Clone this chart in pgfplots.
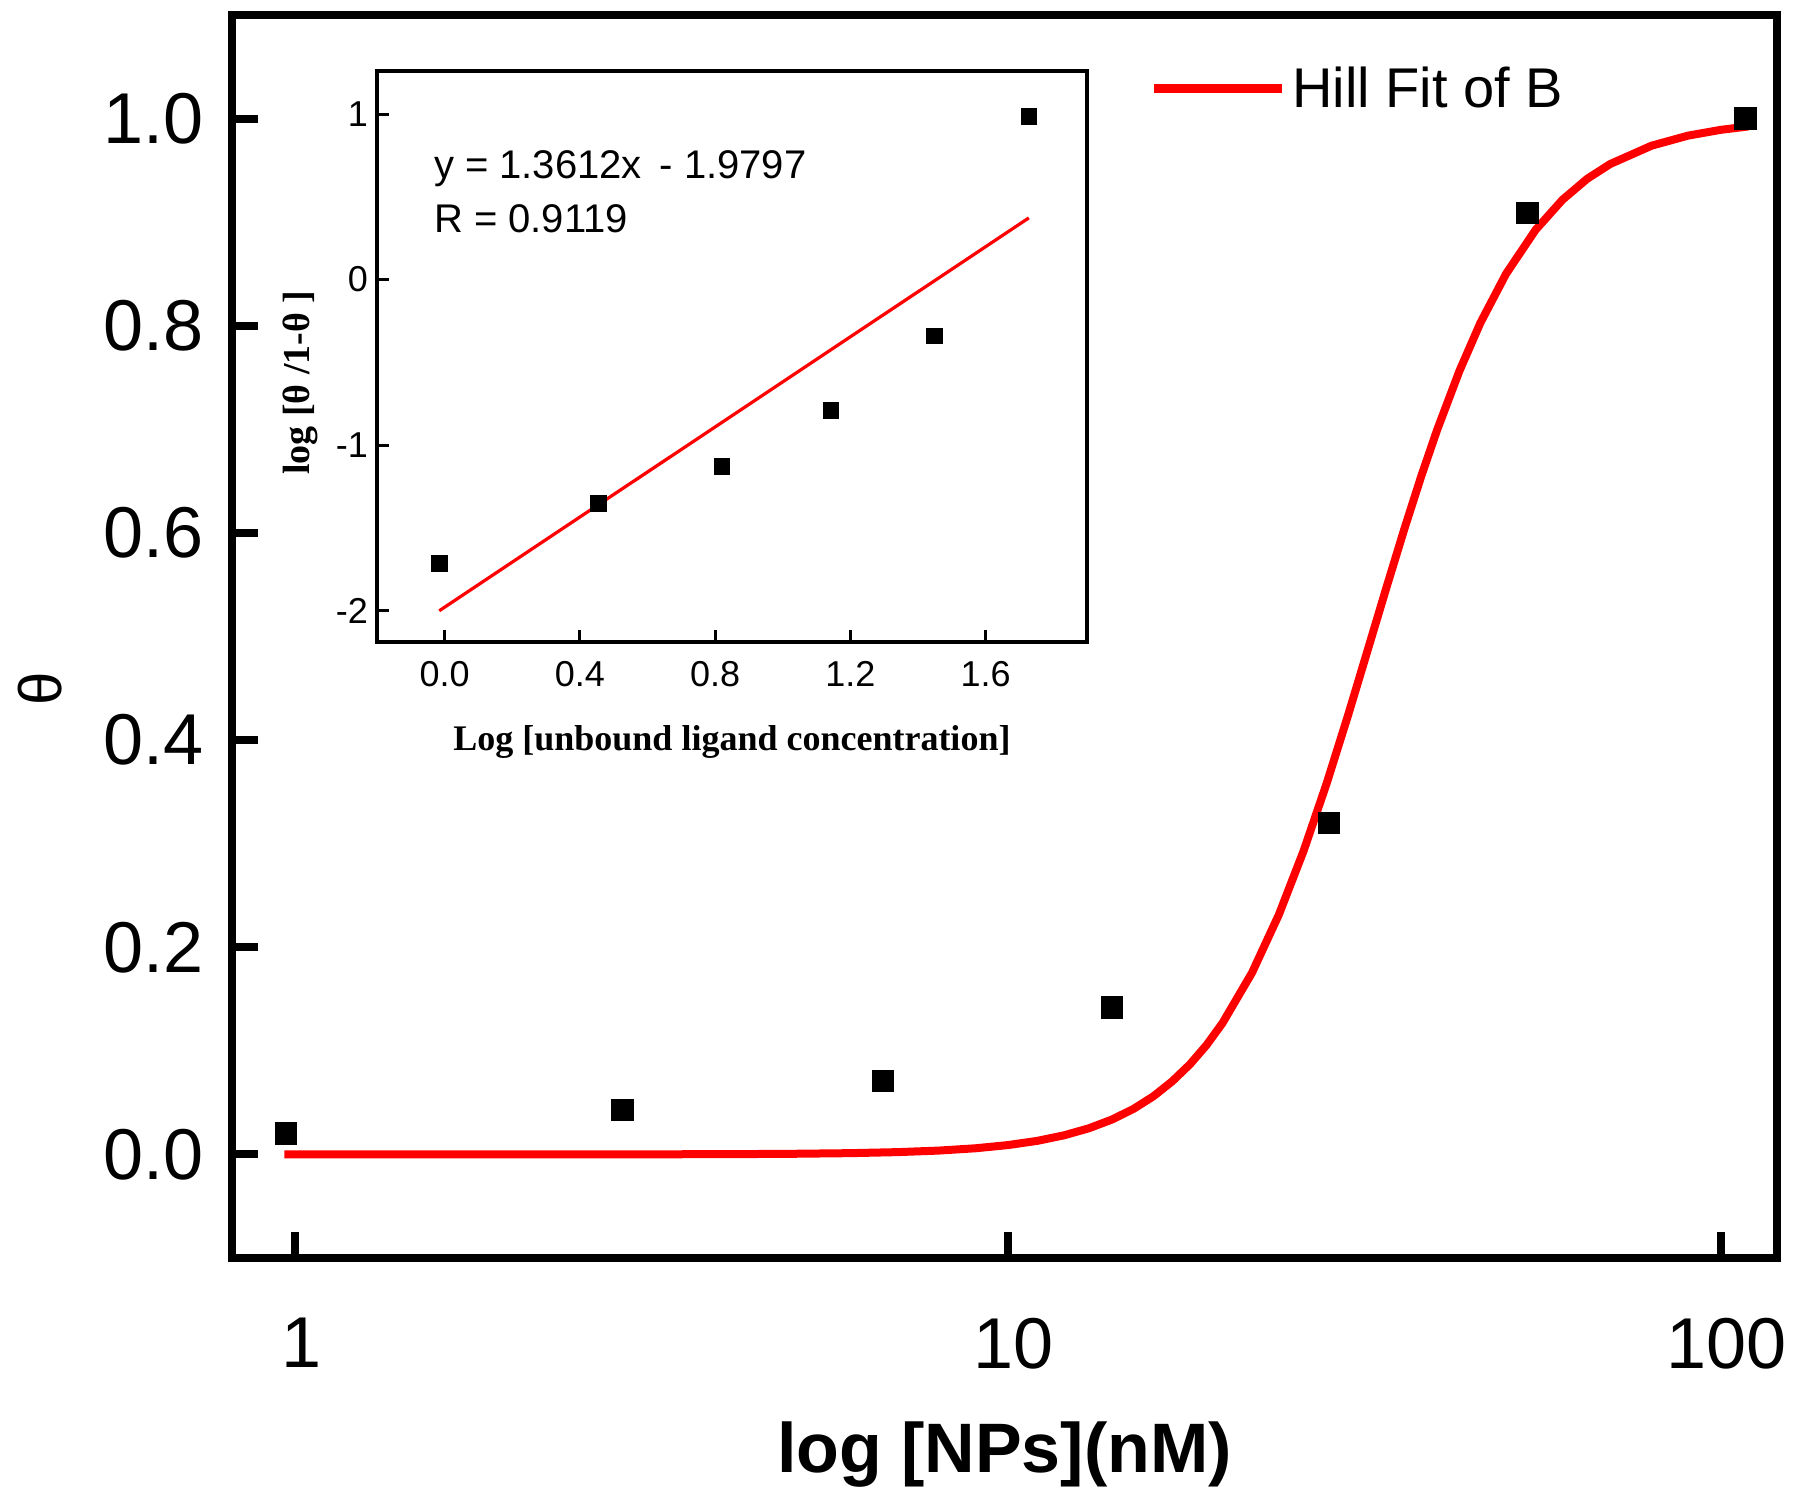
\documentclass[border=0pt]{standalone}
\usepackage{fontspec}
\setmainfont{Liberation Sans}
\newfontfamily\timesf{Liberation Serif}
\usepackage{pgfplots}
\usepackage{pgfplotstable}
\pgfplotsset{compat=1.18}

\pgfplotstableread{
x y
0.970 0.020
2.875 0.043
6.68 0.071
13.99 0.142
28.2 0.320
53.56 0.909
108.4 1.000
}\maindata

\pgfplotstableread{
x y
0.965 0.0000
2 0.0000
3 0.0001
4 0.0002
5 0.0006
6 0.0012
7 0.0022
8 0.0037
9 0.0059
10 0.0090
11 0.0131
12 0.0185
13 0.0253
14 0.0337
15 0.0439
16 0.0561
17 0.0705
18 0.0869
19 0.1056
20 0.1267
22 0.1753
24 0.2315
26 0.2932
28 0.3580
30 0.4236
32 0.4876
34 0.5480
36 0.6039
38 0.6543
40 0.6991
43 0.7562
46 0.8025
50 0.8501
55 0.8925
60 0.9216
65 0.9419
70 0.9561
80 0.9738
90 0.9835
100 0.9891
109.4 0.9924
}\hillfit

\pgfplotstableread{
x y
-0.016 -1.716
0.454 -1.353
0.820 -1.130
1.143 -0.791
1.449 -0.341
1.728 0.986
}\insetdata

\pgfplotstableread{
x y
-0.016 -2.0015
1.728 0.3724
}\insetfit

\begin{document}
\begin{tikzpicture}
\path[use as bounding box] (0,0) rectangle (900pt,749pt);
\begin{axis}[
  at={(116pt,120pt)}, anchor=south west,
  scale only axis, width=772.5pt, height=621.5pt,
  xmode=log, xmin=0.815, xmax=120, ymin=-0.1, ymax=1.1,
  xtick={1,10,100}, xticklabels={1,10,100}, xminorticks=false,
  ytick={0,0.2,0.4,0.6,0.8,1.0}, yticklabels={0.0,0.2,0.4,0.6,0.8,1.0},
  tick pos=left, tick align=inside,
  major tick length=13pt,
  tick style={line width=4pt, black},
  axis line style={line width=4pt},
  tick label style={font=\fontsize{36}{43}\selectfont},
  xticklabel style={yshift=-26.5pt, xshift=3pt},
  yticklabel style={xshift=-10.5pt},
  xlabel={log [NPs](nM)},
  xlabel style={at={(axis description cs:0.5,-0.158)}, anchor=center, font=\bfseries\fontsize{35}{42}\selectfont},
  ylabel={θ},
  ylabel style={at={(axis description cs:-0.1243,0.458)}, anchor=center, font=\fontsize{30}{36}\selectfont},
  legend style={at={(axis description cs:0.5935,0.941)}, anchor=west, draw=none, fill=none, inner sep=0pt,
    font=\fontsize{28}{34}\selectfont, nodes={inner sep=0pt}, column sep=3pt},
  legend image code/.code={\draw[#1, line width=4.5pt] (0pt,0pt) -- (64pt,0pt);},
]
\addplot[only marks, mark=square*, mark size=5.4pt, black, forget plot] table[x=x,y=y] {\maindata};
\addplot[red, line width=4pt, no markers] table[x=x,y=y] {\hillfit};
\addlegendentry{Hill Fit of B}
\end{axis}

\begin{axis}[
  at={(188.5pt,428pt)}, anchor=south west,
  scale only axis, width=355pt, height=285.5pt,
  xmin=-0.2, xmax=1.9, ymin=-2.19, ymax=1.26,
  xtick={0,0.4,0.8,1.2,1.6}, xticklabels={0.0,0.4,0.8,1.2,1.6},
  ytick={-2,-1,0,1}, yticklabels={-2,-1,0,1},
  tick pos=left, tick align=inside,
  major tick length=6pt,
  tick style={line width=1.5pt, black},
  axis line style={line width=1.75pt},
  tick label style={font=\fontsize{18}{22}\selectfont},
  xticklabel style={yshift=-6pt},
  yticklabel style={xshift=-1pt},
  xlabel={Log [unbound ligand concentration]},
  ylabel={log [θ /1-θ ]},
  xlabel style={at={(axis description cs:0.5,-0.175)}, anchor=center, font=\timesf\bfseries\fontsize{18}{22}\selectfont},
  ylabel style={at={(axis description cs:-0.1085,0.454)}, anchor=center, font=\timesf\bfseries\fontsize{19}{23}\selectfont},
  axis background/.style={fill=white},
]
\addplot[only marks, mark=square*, mark size=3.9pt, black] table[x=x,y=y] {\insetdata};
\addplot[red, line width=1.6pt, no markers] table[x=x,y=y] {\insetfit};
\node[anchor=base west, font=\fontsize{20}{24}\selectfont] at (axis description cs:0.0704,0.8116) {y = 1.3612x \,- 1.9797};
\node[anchor=base west, font=\fontsize{20}{24}\selectfont] at (axis description cs:0.0704,0.7168) {R = 0.9119};
\end{axis}
\end{tikzpicture}
\end{document}
